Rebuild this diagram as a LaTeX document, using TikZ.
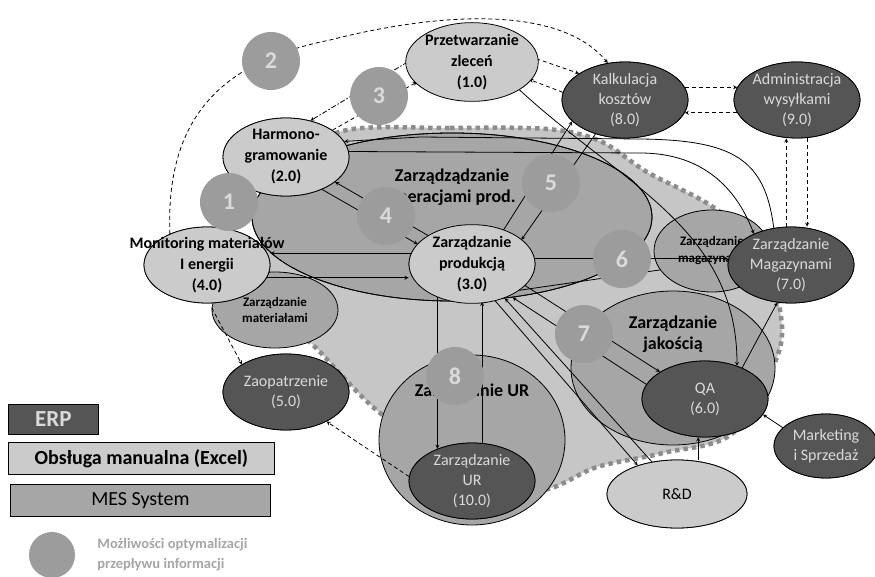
\documentclass[tikz,border=0pt]{standalone}
\usepackage{fontspec}
\setmainfont{Carlito}
\usetikzlibrary{shapes.geometric}
\usetikzlibrary{arrows, positioning, calc}
\definecolor{erpgray}{HTML}{555555}
\definecolor{mangray}{HTML}{CBCBCB}
\definecolor{mesgray}{HTML}{A6A6A6}
\definecolor{areagray}{HTML}{C6C6C6}
\definecolor{dotgray}{HTML}{8C8C8C}
\definecolor{optgray}{HTML}{9C9C9C}
\definecolor{txtlight}{HTML}{DADADA}

\begin{document}
\begin{tikzpicture}[
		x=1pt, y=-1pt,
		>=stealth,
		every node/.style={align=center, inner sep=0pt},
		manual/.style={ellipse, draw, line width=0.8pt, fill=mangray,
				font=\fontsize{16}{21}\selectfont\bfseries},
		erp/.style={ellipse, draw, line width=0.8pt, fill=erpgray, text=txtlight,
				font=\fontsize{16}{20}\selectfont},
		mes/.style={ellipse, draw, line width=0.8pt, fill=mesgray},
		meslbl/.style={font=\fontsize{18}{21}\selectfont\bfseries},
		opt/.style={circle, fill=optgray, minimum size=58pt, text=txtlight,
				font=\fontsize{24}{24}\selectfont\bfseries},
		flow/.style={->, line width=0.8pt},
		dflow/.style={->, line width=0.8pt, dash pattern=on 4pt off 3pt},
		legbox/.style={draw, line width=0.8pt, anchor=north west}
	]
	\useasboundingbox (0,0) rectangle (875,577);
	\fill[white] (0,0) rectangle (875,577);

	% area of the MES system
	\draw[fill=areagray, draw=dotgray, line width=4.5pt, dash pattern=on 4.5pt off 4pt]
	plot[smooth cycle, tension=0.55] coordinates {
			(347,130) (450,128) (547,129) (600,141) (647,172) (713,207) (760,250)
			(780,310) (777,357) (733,433) (663,453) (597,467) (540,490) (470,470)
			(380,413) (313,345) (280,320) (265,230) (300,160)};

	% MES modules
	\node[mes, minimum width=400, minimum height=168] (ops) at (452,217) {};
	\node[mes, minimum width=126, minimum height=76,
		font=\fontsize{13}{16}\selectfont\bfseries] (mat) at (275,310) {Zarządzanie\\materiałami};
	\node[ellipse, draw, line width=0.8pt, minimum width=400, minimum height=168] at (ops.center) {};
	\node[meslbl] (opslbl) at (452,187) {Zarządządzanie\\operacjami prod.};
	\node[mes, minimum width=186, minimum height=170] (urm) at (472,440) {};
	\node[meslbl] (urlbl) at (472,392) {Zarządzanie UR};
	\node[mes, minimum width=204, minimum height=154] (jak) at (673,368) {};
	\node[meslbl] (jaklbl) at (673,334) {Zarządzanie\\jakością};
	\node[mes, minimum width=116, minimum height=82,
		font=\fontsize{13}{17}\selectfont\bfseries] (magm) at (712,251) {Zarządzanie\\magazynami};

	% node shells for the links
	\path (472,62) node[manual, minimum width=128, minimum height=76] (prz) {}
	(625,100) node[erp, minimum width=126, minimum height=76] (kalk) {}
	(797,100) node[erp, minimum width=126, minimum height=76] (adm) {}
	(286,157) node[manual, minimum width=126, minimum height=78] (harm) {}
	(207,265) node[manual, minimum width=126, minimum height=76] (mon) {}
	(472,264) node[manual, minimum width=126, minimum height=76] (prod) {}
	(286,392) node[erp, minimum width=126, minimum height=76] (zaop) {}
	(472,481) node[erp, minimum width=126, minimum height=76] (ur) {}
	(705,399) node[erp, minimum width=126, minimum height=76] (qa) {}
	(677,494) node[manual, minimum width=140, minimum height=68] (rd) {}
	(826,446) node[erp, minimum width=104, minimum height=64] (mark) {}
	(791,265) node[erp, minimum width=126, minimum height=76] (mag) {};

	% dashed links
	\draw[dflow] (prz.3) -- (kalk.150);
	\draw[dflow] (kalk.173) -- (prz.-17);
	\draw[dflow] (mon.140) .. controls (165,110) and (230,60) .. (330,40)
	.. controls (440,12) and (560,5) .. (kalk.115);
	\draw[->, line width=0.8pt, dash pattern=on 5pt off 2pt on 1.5pt off 2pt] (prz.180) -- (harm.56);
	\draw[dflow] (harm.30) -- (prz.200);
	\draw[dflow] (kalk.12) -- (adm.168);
	\draw[dflow] (adm.192) -- (kalk.348);
	\draw[dflow] (mag.97) -- (mag.97 |- adm.south);
	\draw[dflow] (adm.-75) -- (adm.-75 |- mag.north);
	\draw[dflow] (mat.178) -- (zaop.148);
	\draw[dflow] (ur.176) -- (zaop.-36);

	% solid links
	\draw[flow] (prod.147) -- (harm.-27);
	\draw[flow] (harm.-42) -- (prod.160);
	\draw[flow] (prod.170) -- (prod.170 -| mon.east);
	\draw[flow] (mon.-12) -- (mon.-12 -| prod.west);
	\draw[flow] (prod.47) -- (kalk.202);
	\draw[flow] (kalk.229) -- (prod.26);
	\draw[flow] (prod.5) -- (prod.5 -| mag.west);
	\draw[line width=0.8pt] (prod.-30) -- (magm.200);
	\draw[flow] (prod.-22) -- (qa.149);
	\draw[flow] (qa.166) -- (ops.-53);
	\draw[flow] (ops.-63) -- (rd.144);
	\draw[flow] (rd.128) -- (ops.-57);
	\draw[flow] (prod.-137) -- (ur.137);
	\draw[flow] (ur.75) -- (prod.-75);
	\draw[flow] (qa.-100 |- rd.north) -- (qa.-100);
	\draw[flow] (mark.157) -- (qa.-15);
	\draw[flow] (qa.40) -- (mag.-110);
	\draw[flow] (prz.-30) to[out=-43, in=90] (qa.46);
	\draw[flow] (harm.5) -- (640,153) .. controls (700,153) and (735,185) .. (mag.140);
	\draw[flow] (mag.115) .. controls (765,160) and (735,140) .. (640,139) -- (420,137) -- (harm.15);

	% nodes
	\node[manual, minimum width=128, minimum height=76] at (prz) {Przetwarzanie\\zleceń\\(1.0)};
	\node[erp, minimum width=126, minimum height=76] at (kalk) {Kalkulacja\\kosztów\\(8.0)};
	\node[erp, minimum width=126, minimum height=76] at (adm) {Administracja\\wysyłkami\\(9.0)};
	\node[manual, minimum width=126, minimum height=78] at (harm) {Harmono-\\gramowanie\\(2.0)};
	\node[manual, minimum width=126, minimum height=76] at (mon) {};
	\node[font=\fontsize{16}{21}\selectfont\bfseries] (monlbl) at (mon) {Monitoring materiałów\\I energii\\(4.0)};
	\node[manual, minimum width=126, minimum height=76] at (prod) {Zarządzanie\\produkcją\\(3.0)};
	\node[erp, minimum width=126, minimum height=76] at (zaop) {Zaopatrzenie\\(5.0)};
	\node[erp, minimum width=126, minimum height=76] at (ur) {Zarządzanie\\UR\\(10.0)};
	\node[erp, minimum width=126, minimum height=76] at (qa) {QA\\(6.0)};
	\node[manual, minimum width=140, minimum height=68, font=\fontsize{16}{20}\selectfont] at (rd) {R\&D};
	\node[erp, minimum width=104, minimum height=64] at (mark) {Marketing\\i Sprzedaż};
	\node[erp, minimum width=126, minimum height=76] at (mag) {Zarządzanie\\Magazynami\\(7.0)};

	% optimisation points
	\node[opt] (o1) at (229,202) {1};
	\node[opt] (o2) at (271,61) {2};
	\node[opt] (o3) at (379,96) {3};
	\node[opt] (o4) at (386,216) {4};
	\node[opt] (o5) at (551,183) {5};
	\node[opt] (o6) at (622,259) {6};
	\node[opt] (o7) at (584,334) {7};
	\node[opt] (o8) at (455,376) {8};

	% legend
	\node[legbox, fill=erpgray, minimum width=90, minimum height=30, text=txtlight,
		font=\fontsize{23}{23}\selectfont\bfseries] (lerp) at (8,404) {ERP};
	\node[legbox, fill=mangray, minimum width=266, minimum height=32,
		font=\fontsize{20}{20}\selectfont\bfseries] (lman) at (8,442) {Obsługa manualna (Excel)};
	\node[legbox, fill=mesgray, minimum width=260, minimum height=32,
		font=\fontsize{20}{20}\selectfont] (lmes) at (10,484) {MES System};
	\node[circle, fill=optgray, minimum size=46] (lopt) at (52,555) {};
	\node[right=22pt of lopt, align=left, text=optgray!90!white,
		font=\fontsize{14.5}{20}\selectfont\bfseries] (lopttxt) {Możliwości optymalizacji\\przepływu informacji};
\end{tikzpicture}
\end{document}
